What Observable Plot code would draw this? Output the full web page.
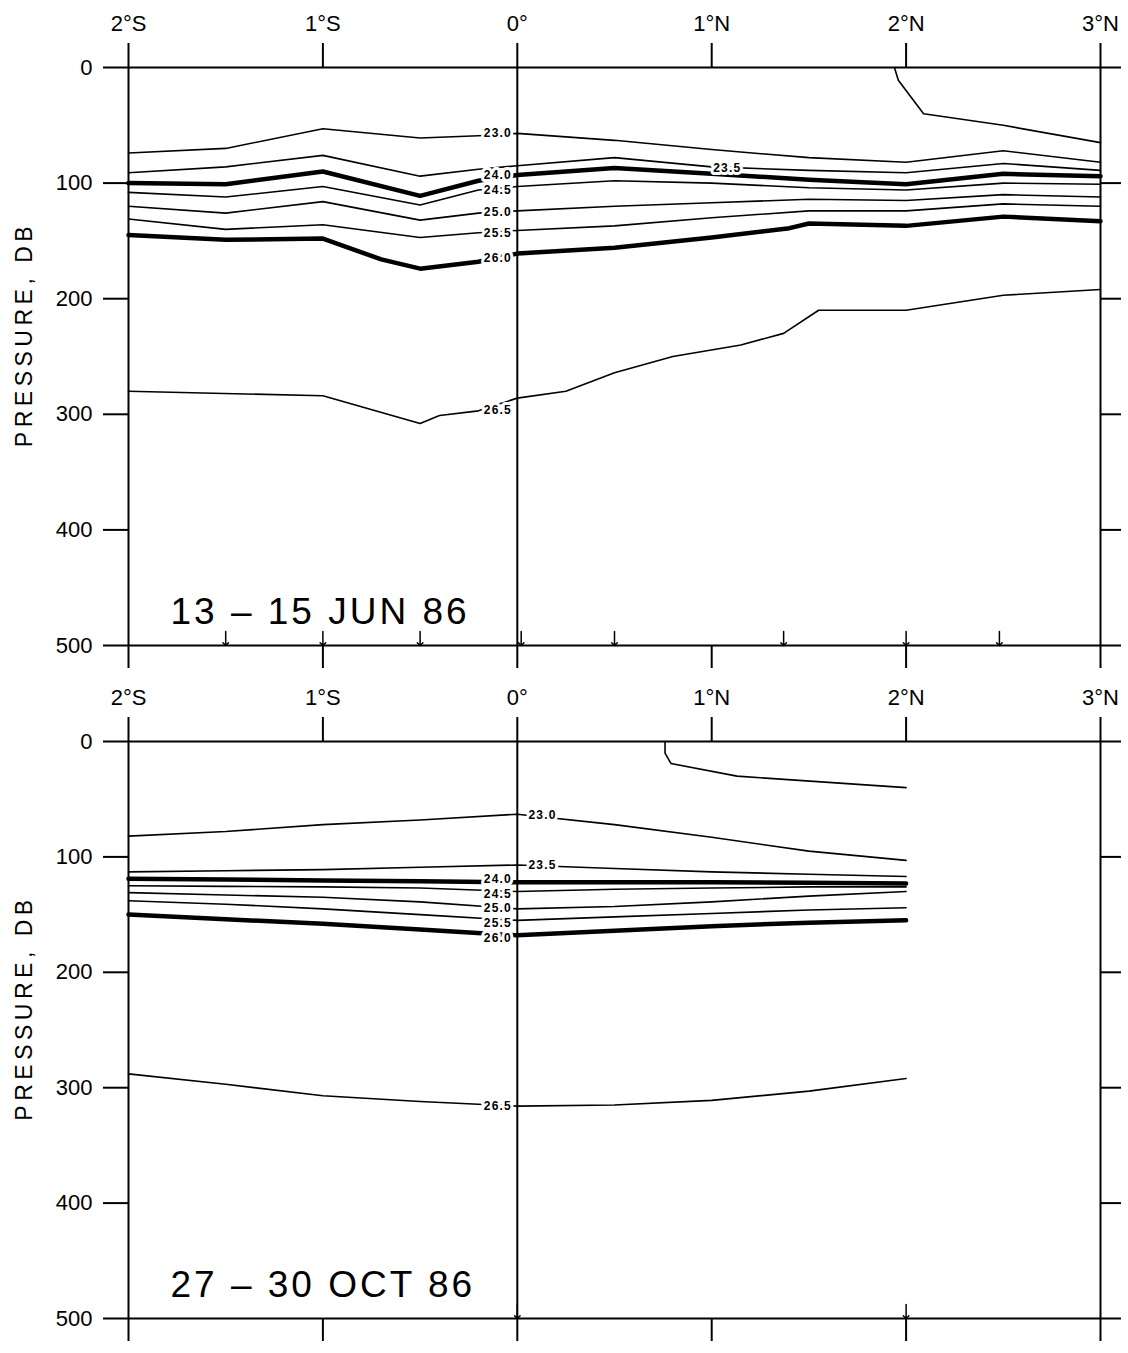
<!DOCTYPE html>
<html><head><meta charset="utf-8">
<script src="https://cdn.jsdelivr.net/npm/d3@7"></script>
<script src="https://cdn.jsdelivr.net/npm/@observablehq/plot@0.6"></script>
<style>
html,body{margin:0;padding:0;background:#fff;}
#chart svg{display:block;}
g[font-size="37"] text{letter-spacing:3px;}
g[font-size="23"] text{letter-spacing:4.5px;}
g[font-size="12"] text{letter-spacing:1.2px;}
</style></head><body><div id="chart"></div>
<script>
// axis ticks
const lonTicks = [-2, -1, 0, 1, 2, 3];
const presTicks = [0, 100, 200, 300, 400, 500];

// ---- 13-15 JUN 86 : isopycnal depths (db) vs latitude (deg, S negative)
const junLon = [-2, -1.5, -1, -0.5, -0.2, 0, 0.5, 1, 1.5, 2, 2.5, 3];
const jun230 = [74, 70, 53, 61, 59, 57, 63, 71, 78, 82, 72, 82];
const jun235 = [91, 86, 76, 94, 88, 85, 78, 86, 89, 91, 83, 89];
const jun240 = [100, 101, 90, 111, 98, 93, 87, 92, 97, 101, 92, 94];
const jun245 = [108, 112, 103, 119, 106, 103, 98, 100, 104, 106, 100, 101];
const jun250 = [120, 126, 116, 132, 126, 124, 120, 117, 114, 115, 110, 112];
const jun255 = [131, 140, 136, 147, 143, 141, 137, 130, 124, 124, 118, 120];
const jun260Lon = [-2, -1.5, -1, -0.7, -0.5, -0.2, 0, 0.5, 1, 1.4, 1.5, 2, 2.5, 3];
const jun260 = [145, 149, 148, 166, 174, 168, 161, 156, 147, 139, 135, 137, 129, 133];
const jun265Lon = [-2, -1, -0.5, -0.4, -0.2, 0, 0.25, 0.5, 0.8, 1.15, 1.37, 1.55, 2, 2.5, 3];
const jun265 = [280, 284, 308, 301, 297, 286, 280, 264, 250, 240, 230, 210, 210, 197, 192];
const junSurfLon = [1.94, 1.96, 2.09, 2.5, 3];
const junSurf = [0, 11, 40, 50, 65];
const junStations = [-1.5, -1, -0.5, 0.02, 0.5, 1.37, 2, 2.48];
const junLabelLon = [-0.1, 1.08, -0.1, -0.1, -0.1, -0.1, -0.1, -0.1];
const junLabelP = [57, 87, 93, 106, 125, 143, 165, 296];

// ---- 27-30 OCT 86
const octLon = [-2, -1.5, -1, -0.5, 0, 0.5, 1, 1.5, 2];
const oct230 = [82, 78, 72, 68, 63, 72, 83, 95, 103];
const oct235 = [113, 112, 111, 109, 107, 110, 113, 115, 117];
const oct240 = [119, 119.5, 120.5, 121, 122, 122, 122, 122.5, 123];
const oct245 = [125, 125.5, 126, 127, 130, 128, 127, 126, 126];
const oct250 = [131, 133, 135, 139, 145, 143, 139, 134, 130];
const oct255 = [138, 141, 145, 150, 155, 152, 149, 146, 144];
const oct260 = [150, 154, 158, 163, 168, 164, 160, 157, 155];
const oct265 = [288, 297, 307, 312, 316, 315, 311, 303, 292];
const octSurfLon = [0.76, 0.76, 0.79, 1.13, 2];
const octSurf = [0, 10, 19, 30, 40];
const octStations = [0, 2];
const octLabelLon = [0.13, 0.13, -0.1, -0.1, -0.1, -0.1, -0.1, -0.1];
const octLabelP = [64, 107, 119.5, 132, 144.5, 157, 170, 316];

const levels = ["23.0", "23.5", "24.0", "24.5", "25.0", "25.5", "26.0", "26.5"];
const thickLevels = ["24.0", "26.0"];

function rows(level, lons, ps) {
  return lons.map((lon, i) => ({level, lon, p: ps[i]}));
}

const junLines = [
  ...rows("surf", junSurfLon, junSurf),
  ...rows("23.0", junLon, jun230),
  ...rows("23.5", junLon, jun235),
  ...rows("24.0", junLon, jun240),
  ...rows("24.5", junLon, jun245),
  ...rows("25.0", junLon, jun250),
  ...rows("25.5", junLon, jun255),
  ...rows("26.0", jun260Lon, jun260),
  ...rows("26.5", jun265Lon, jun265)
];
const octLines = [
  ...rows("surf", octSurfLon, octSurf),
  ...rows("23.0", octLon, oct230),
  ...rows("23.5", octLon, oct235),
  ...rows("24.0", octLon, oct240),
  ...rows("24.5", octLon, oct245),
  ...rows("25.0", octLon, oct250),
  ...rows("25.5", octLon, oct255),
  ...rows("26.0", octLon, oct260),
  ...rows("26.5", octLon, oct265)
];
const junLabels = levels.map((t, i) => ({t, lon: junLabelLon[i], p: junLabelP[i]}));
const octLabels = levels.map((t, i) => ({t, lon: octLabelLon[i], p: octLabelP[i]}));

const latFmt = d => d === 0 ? "0°" : `${Math.abs(d)}°${d < 0 ? "S" : "N"}`;
const FONT = "'Liberation Sans', Arial, Helvetica, sans-serif";

function panel({lines, labels, stations, title, height, marginBottom}) {
  return Plot.plot({
    width: 1128,
    height,
    marginLeft: 128,
    marginRight: 28,
    marginTop: 67,
    marginBottom,
    style: {fontFamily: FONT, fontSize: "22px", background: "white", color: "black", overflow: "visible"},
    x: {domain: [-2, 3]},
    y: {domain: [0, 500], reverse: true},
    marks: [
      Plot.line(lines.filter(d => !thickLevels.includes(d.level)), {x: "lon", y: "p", z: "level", stroke: "black", strokeWidth: 1.6, curve: "linear"}),
      Plot.line(lines.filter(d => thickLevels.includes(d.level)), {x: "lon", y: "p", z: "level", stroke: "black", strokeWidth: 4.5, curve: "linear"}),
      Plot.text(labels, {x: "lon", y: "p", text: "t", fontSize: 12, fontWeight: "bold", fill: "black", stroke: "white", strokeWidth: 6, fontFamily: FONT}),
      Plot.ruleY([0, 500], {stroke: "black", strokeWidth: 2}),
      Plot.ruleX([-2, 0, 3], {stroke: "black", strokeWidth: 2}),
      Plot.axisX({anchor: "top", ticks: lonTicks, tickFormat: latFmt, tickSize: 25, tickPadding: 12, strokeWidth: 2, label: null, fontSize: 22}),
      Plot.axisX({anchor: "bottom", ticks: lonTicks, tickFormat: () => "", tickSize: 23, strokeWidth: 2, label: null}),
      Plot.axisY({anchor: "left", ticks: presTicks, tickSize: 25, tickPadding: 11, strokeWidth: 2, label: null, fontSize: 22}),
      Plot.axisY({anchor: "right", ticks: presTicks, tickFormat: () => "", tickSize: 20, strokeWidth: 2, label: null}),
      Plot.vector(stations, {x: d => d, frameAnchor: "bottom", length: 14, rotate: 180, anchor: "end", stroke: "black", strokeWidth: 1.5}),
      Plot.text(["PRESSURE, DB"], {frameAnchor: "left", dx: -104, dy: -22, rotate: -90, textAnchor: "middle", fontSize: 23, fill: "black", fontFamily: FONT}),
      Plot.text([title], {frameAnchor: "bottom-left", dx: 42, dy: -22, textAnchor: "start", lineAnchor: "bottom", fontSize: 37, fill: "black", fontFamily: FONT})
    ]
  });
}

const chart = document.getElementById("chart");
chart.append(panel({lines: junLines, labels: junLabels, stations: junStations, title: "13 – 15 JUN 86", height: 674, marginBottom: 29}));
chart.append(panel({lines: octLines, labels: octLabels, stations: octStations, title: "27 – 30 OCT 86", height: 679, marginBottom: 35}));
</script>
</body></html>
